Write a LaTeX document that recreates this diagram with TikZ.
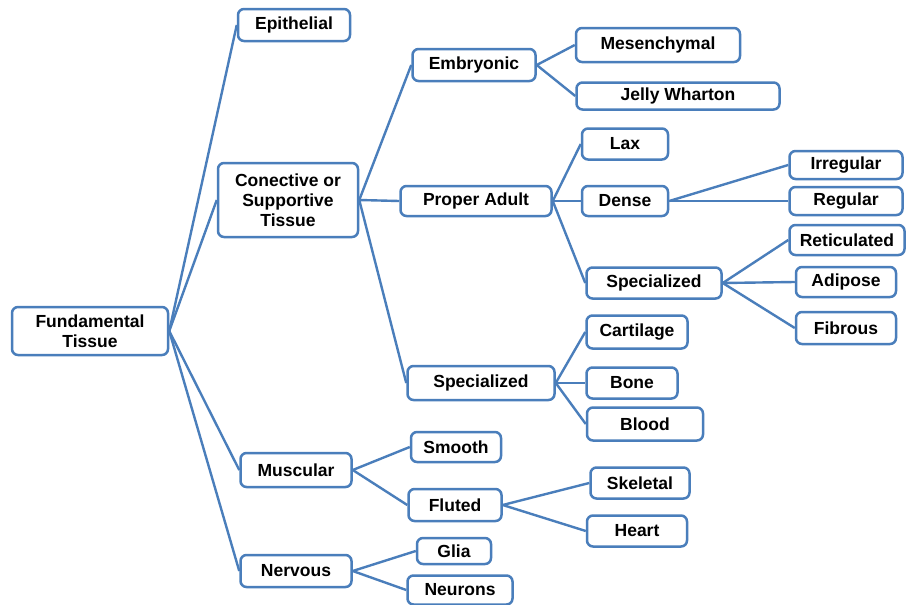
\documentclass[tikz,border=0pt]{standalone}
\usepackage{fontspec}
\setmainfont{Liberation Sans}
\definecolor{boxblue}{HTML}{4A7EBB}
\begin{document}
\begin{tikzpicture}[x=1pt,y=-1pt,
  box/.style={draw=boxblue, line width=2.5pt, rounded corners=6pt, fill=white,
    inner sep=0pt, align=center, font=\fontsize{17.5}{20}\selectfont\bfseries, text=black},
  link/.style={draw=boxblue, line width=2.4pt}]
\useasboundingbox[fill=white] (0,0) rectangle (908,605);
% level 0
\node[box, minimum width=156, minimum height=48] (fund) at (90,331) {Fundamental\\Tissue};
% level 1
\node[box, minimum width=112, minimum height=32] (epi) at (294,25) {Epithelial};
\node[box, minimum width=140, minimum height=74] (con) at (288,200) {Conective or\\Supportive\\Tissue};
\node[box, minimum width=111, minimum height=34] (mus) at (296,470) {Muscular};
\node[box, minimum width=111, minimum height=32] (ner) at (296,571) {Nervous};
% level 2
\node[box, minimum width=123, minimum height=32] (emb) at (474,65) {Embryonic};
\node[box, minimum width=151, minimum height=30] (pro) at (476,201) {Proper Adult};
\node[box, minimum width=147, minimum height=34] (spe) at (481,383) {Specialized};
\node[box, minimum width=90, minimum height=30] (smo) at (456,447) {Smooth};
\node[box, minimum width=93, minimum height=32] (flu) at (455,505) {Fluted};
\node[box, minimum width=74, minimum height=26] (gli) at (454,551) {Glia};
\node[box, minimum width=105, minimum height=29] (neu) at (460,590) {Neurons};
% level 3
\node[box, minimum width=164, minimum height=34] (mes) at (658,45) {Mesenchymal};
\node[box, minimum width=203, minimum height=27] (jel) at (678,96) {Jelly Wharton};
\node[box, minimum width=86, minimum height=31] (lax) at (625,144) {Lax};
\node[box, minimum width=86, minimum height=30] (den) at (625,201) {Dense};
\node[box, minimum width=135, minimum height=31] (sp2) at (654,283) {Specialized};
\node[box, minimum width=101, minimum height=33] (car) at (637,332) {Cartilage};
\node[box, minimum width=91, minimum height=31] (bon) at (632,383) {Bone};
\node[box, minimum width=116, minimum height=33] (blo) at (645,424) {Blood};
\node[box, minimum width=99, minimum height=31] (ske) at (640,483) {Skeletal};
\node[box, minimum width=100, minimum height=31] (hea) at (637,531) {Heart};
% level 4
\node[box, minimum width=113, minimum height=28] (irr) at (846,165) {Irregular};
\node[box, minimum width=113, minimum height=28] (reg) at (846,201) {Regular};
\node[box, minimum width=115, minimum height=30] (ret) at (847,240) {Reticulated};
\node[box, minimum width=100, minimum height=30] (adi) at (846,282) {Adipose};
\node[box, minimum width=100, minimum height=32] (fib) at (846,328) {Fibrous};
% connectors
\foreach \a/\b in {fund/epi,fund/con,fund/mus,fund/ner,
  con/emb,con/pro,con/spe,emb/mes,emb/jel,pro/lax,pro/den,pro/sp2,
  den/irr,den/reg,sp2/ret,sp2/adi,sp2/fib,spe/car,spe/bon,spe/blo,
  mus/smo,mus/flu,flu/ske,flu/hea,ner/gli,ner/neu}
  \draw[link] (\a.east) -- (\b.west);
\end{tikzpicture}
\end{document}
